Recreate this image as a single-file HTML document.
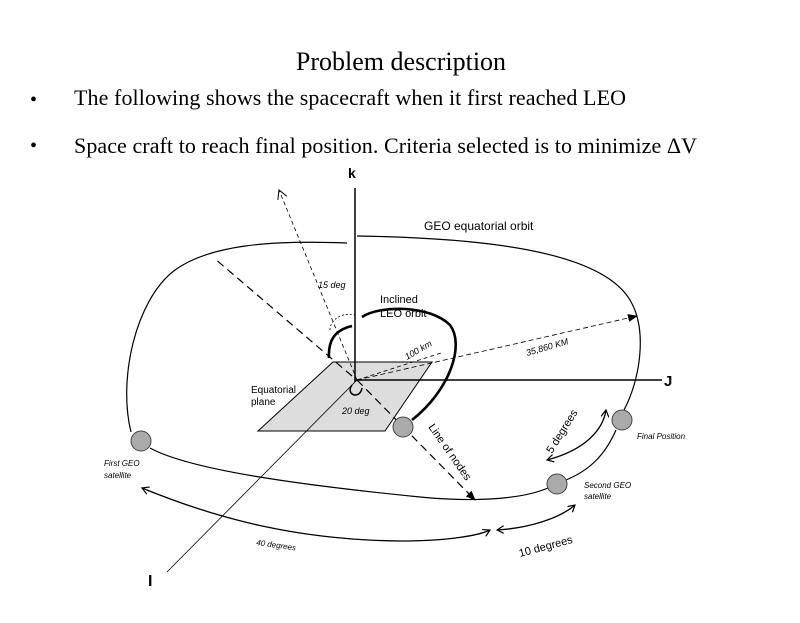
<!DOCTYPE html>
<html><head><style>
body{margin:0;background:#fff;width:800px;height:618px;overflow:hidden;font-family:"Liberation Serif",serif;}
</style></head><body>
<svg width="800" height="618" viewBox="0 0 800 618" xmlns="http://www.w3.org/2000/svg">
<defs>
<marker id="fa" markerWidth="10" markerHeight="8" refX="9" refY="4" orient="auto" markerUnits="userSpaceOnUse"><path d="M0,0 L10,4 L0,8 z" fill="#000"/></marker>
<marker id="oa" markerWidth="10" markerHeight="10" refX="9" refY="5" orient="auto" markerUnits="userSpaceOnUse"><path d="M0,0 L9,5 L0,10" fill="none" stroke="#000"/></marker>
<marker id="sa" markerWidth="8" markerHeight="8" refX="7" refY="4" orient="auto" markerUnits="userSpaceOnUse"><path d="M0,0 L7,4 L0,8" fill="none" stroke="#000" stroke-width="1.2"/></marker>
<marker id="sb" markerWidth="8" markerHeight="8" refX="1" refY="4" orient="auto" markerUnits="userSpaceOnUse"><path d="M8,0 L1,4 L8,8" fill="none" stroke="#000" stroke-width="1.2"/></marker>
</defs>
<text x="401" y="70" font-size="26" text-anchor="middle" font-family="Liberation Serif,serif">Problem description</text>
<text x="30" y="106" font-size="20">•</text>
<text x="74" y="105" font-size="22" font-family="Liberation Serif,serif" textLength="552">The following shows the spacecraft when it first reached LEO</text>
<text x="30" y="152" font-size="20">•</text>
<text x="74" y="153" font-size="22" font-family="Liberation Serif,serif" textLength="623">Space craft to reach final position. Criteria selected is to minimize ΔV</text>

<g font-family="Liberation Sans,sans-serif">
<polygon points="333,362 432,362 385,431 258,431" fill="#ddd" stroke="#000" stroke-width="1"/>
<line x1="355" y1="188" x2="355" y2="382" stroke="#000" stroke-width="1.5"/>
<line x1="355" y1="380" x2="662" y2="380" stroke="#000" stroke-width="1.5"/>
<line x1="357" y1="380" x2="167" y2="572" stroke="#000" stroke-width="0.8"/>
<text x="348" y="178" font-size="14" font-weight="bold">k</text>
<text x="664" y="386" font-size="15" font-weight="bold">J</text>
<text x="148" y="586" font-size="16" font-weight="bold">I</text>
<path d="M357,236 C480,238 600,250 630,300 C648,330 640,380 624,410" fill="none" stroke="#000" stroke-width="1.2"/>
<path d="M616,430 C605,455 590,470 566,480" fill="none" stroke="#000" stroke-width="1.2"/>
<path d="M548,488 C520,500 470,502 420,497 C300,485 190,470 150,448" fill="none" stroke="#000" stroke-width="1.2"/>
<path d="M131,432 C118,380 135,300 175,270 C210,245 270,240 347,243" fill="none" stroke="#000" stroke-width="1.2"/>
<text x="424" y="230" font-size="12">GEO equatorial orbit</text>
<line x1="357" y1="380" x2="279" y2="190" stroke="#000" stroke-width="0.8" stroke-dasharray="4,3" marker-end="url(#oa)"/>
<line x1="352" y1="376" x2="214" y2="258" stroke="#000" stroke-width="1.2" stroke-dasharray="8,5"/>
<line x1="357" y1="380" x2="637" y2="316" stroke="#000" stroke-width="0.8" stroke-dasharray="5,3" marker-end="url(#fa)"/>
<line x1="357" y1="380" x2="441" y2="353" stroke="#000" stroke-width="0.8" stroke-dasharray="4,3"/>
<line x1="357" y1="380" x2="475" y2="500" stroke="#000" stroke-width="1.2" stroke-dasharray="8,5" marker-end="url(#fa)"/>
<path d="M330,330 C330,318 345,312 355,315" fill="none" stroke="#000" stroke-width="0.8" stroke-dasharray="2,2"/>
<text x="318" y="288" font-size="9" font-style="italic">15 deg</text>
<path d="M329,358 C328,340 335,330 352,326 M362,317 C380,305 430,305 450,325 C465,345 450,390 412,420" fill="none" stroke="#000" stroke-width="2.6"/>
<path d="M352,385 C345,395 360,400 362,388" fill="none" stroke="#000" stroke-width="1.5"/>
<text x="380" y="303" font-size="11">Inclined</text>
<text x="380" y="317" font-size="11">LEO orbit</text>
<text x="0" y="0" font-size="9" font-style="italic" transform="translate(407,360) rotate(-30)">100 km</text>
<text x="0" y="0" font-size="9" font-style="italic" transform="translate(527,356) rotate(-16)">35,860 KM</text>
<text x="251" y="393" font-size="10">Equatorial</text>
<text x="251" y="405" font-size="10">plane</text>
<text x="342" y="414" font-size="9" font-style="italic">20 deg</text>
<text x="0" y="0" font-size="11" transform="translate(428,427) rotate(55)">Line of nodes</text>
<circle cx="141" cy="441" r="10" fill="#aaa" stroke="#444"/>
<circle cx="403" cy="427" r="10" fill="#aaa" stroke="#444"/>
<circle cx="557" cy="484" r="10" fill="#aaa" stroke="#444"/>
<circle cx="622" cy="420" r="10" fill="#aaa" stroke="#444"/>
<text x="104" y="466" font-size="8" font-style="italic">First GEO</text>
<text x="104" y="478" font-size="8" font-style="italic">satellite</text>
<text x="584" y="488" font-size="8" font-style="italic">Second GEO</text>
<text x="584" y="499" font-size="8" font-style="italic">satellite</text>
<text x="637" y="439" font-size="8" font-style="italic">Final Position</text>
<path d="M142,488 C220,520 300,540 400,541 C450,541 480,535 490,530" fill="none" stroke="#000" stroke-width="1.3" marker-start="url(#sb)" marker-end="url(#sa)"/>
<path d="M497,530 C530,528 560,518 575,505" fill="none" stroke="#000" stroke-width="1.3" marker-start="url(#sb)" marker-end="url(#sa)"/>
<path d="M547,460 C585,450 603,430 606,410" fill="none" stroke="#000" stroke-width="1.3" marker-start="url(#sb)" marker-end="url(#sa)"/>
<text x="0" y="0" font-size="8" font-style="italic" transform="translate(256,545) rotate(8)">40 degrees</text>
<text x="0" y="0" font-size="11" transform="translate(520,557) rotate(-15)">10 degrees</text>
<text x="0" y="0" font-size="11" transform="translate(552,454) rotate(-58)">5 degrees</text>
</g>
</svg>
</body></html>
